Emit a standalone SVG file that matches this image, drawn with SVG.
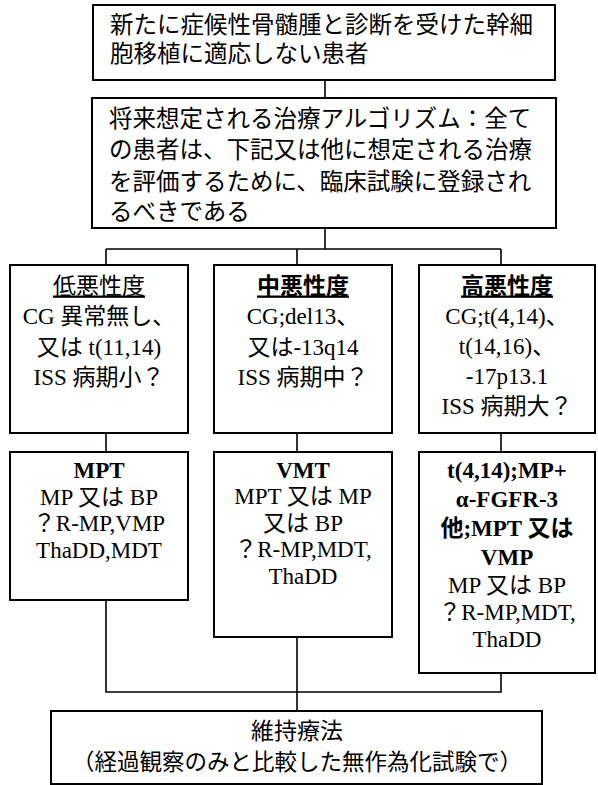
<svg xmlns="http://www.w3.org/2000/svg" width="598" height="785" viewBox="0 0 598 785">
<style>
.box{fill:#fff;stroke:#000;stroke-width:2}
.ln{fill:none;stroke:#000;stroke-width:1.6}
text{font-family:"Liberation Serif","Noto Sans CJK JP",serif;fill:#000}
.t24{font-size:23.5px}
.t23{font-size:23px;text-anchor:middle}
.b{font-weight:bold}
.u{text-decoration:underline}
</style>
<rect width="598" height="785" fill="#fff"/>
<g id="connectors">
<path class="ln" d="M325 80V98M325 228V249M106 249H501M106 249V265M297 249V265M501 249V265"/>
<path class="ln" d="M106 433V452M297 433V452M501 433V452"/>
<path class="ln" d="M106 600V692H501V673M297 637V711"/>
</g>
<g id="n1">
<rect class="box" x="93" y="5" width="462" height="75"/>
<text class="t24" x="110" y="32.5">新たに症候性骨髄腫と診断を受けた幹細</text>
<text class="t24" x="110" y="61.5">胞移植に適応しない患者</text>
</g>
<g id="n2">
<rect class="box" x="92" y="98" width="464" height="130"/>
<text class="t24" x="109" y="126.5">将来想定される治療アルゴリズム：全て</text>
<text class="t24" x="109" y="158">の患者は、下記又は他に想定される治療</text>
<text class="t24" x="109" y="189.5">を評価するために、臨床試験に登録され</text>
<text class="t24" x="109" y="220">るべきである</text>
</g>
<g id="low">
<rect class="box" x="10" y="265" width="178" height="168"/>
<text class="t23 u" x="99" y="293.5">低悪性度</text>
<text class="t23" x="99" y="324">CG 異常無し、</text>
<text class="t23" x="99" y="354.5">又は t(11,14)</text>
<text class="t23" x="99" y="385">ISS 病期小？</text>
</g>
<g id="mid">
<rect class="box" x="214" y="265" width="178" height="168"/>
<text class="t23 b u" x="303" y="293.5">中悪性度</text>
<text class="t23" x="303" y="324">CG;del13、</text>
<text class="t23" x="303" y="354.5">又は-13q14</text>
<text class="t23" x="303" y="385">ISS 病期中？</text>
</g>
<g id="high">
<rect class="box" x="419" y="265" width="176" height="168"/>
<text class="t23 b u" x="507" y="293.5">高悪性度</text>
<text class="t23" x="507" y="324">CG;t(4,14)、</text>
<text class="t23" x="507" y="354">t(14,16)、</text>
<text class="t23" x="507" y="384">-17p13.1</text>
<text class="t23" x="507" y="413.5">ISS 病期大？</text>
</g>
<g id="mpt">
<rect class="box" x="10" y="452" width="178" height="148"/>
<text class="t23 b" x="99" y="477.5">MPT</text>
<text class="t23" x="99" y="505">MP 又は BP</text>
<text class="t23" x="99" y="531">？R-MP,VMP</text>
<text class="t23" x="99" y="558">ThaDD,MDT</text>
</g>
<g id="vmt">
<rect class="box" x="214" y="452" width="178" height="185"/>
<text class="t23 b" x="303" y="477.5">VMT</text>
<text class="t23" x="303" y="504">MPT 又は MP</text>
<text class="t23" x="303" y="530.5">又は BP</text>
<text class="t23" x="303" y="557">？R-MP,MDT,</text>
<text class="t23" x="303" y="583.5">ThaDD</text>
</g>
<g id="t414">
<rect class="box" x="419" y="452" width="176" height="221"/>
<text class="t23 b" x="507" y="478">t(4,14);MP+</text>
<text class="t23 b" x="507" y="507">α-FGFR-3</text>
<text class="t23 b" x="507" y="536">他;MPT 又は</text>
<text class="t23 b" x="507" y="565">VMP</text>
<text class="t23" x="507" y="593">MP 又は BP</text>
<text class="t23" x="507" y="620">？R-MP,MDT,</text>
<text class="t23" x="507" y="647">ThaDD</text>
</g>
<g id="maint">
<rect class="box" x="51" y="711" width="491" height="73"/>
<text class="t23" x="297" y="738.5">維持療法</text>
<text class="t23" x="297" y="770" style="font-size:22.5px">（経過観察のみと比較した無作為化試験で）</text>
</g>
</svg>
